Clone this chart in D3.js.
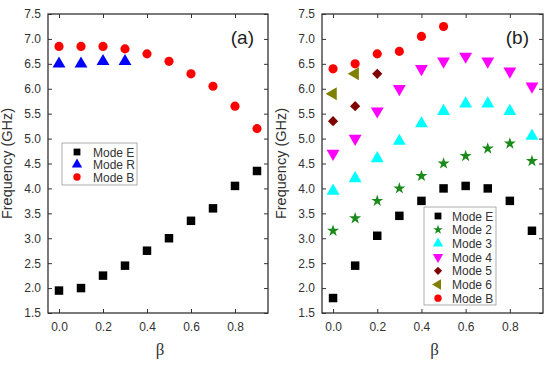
<!DOCTYPE html>
<html>
<head>
<meta charset="utf-8">
<script src="https://cdn.jsdelivr.net/npm/d3@7"></script>
<style>
body { margin: 0; background: #fff; }
svg text { font-family: "Liberation Sans", Arial, sans-serif; }
</style>
</head>
<body>
<svg id="chart" width="550" height="366"></svg>
<script>
// beta values shared by all modes
var beta = [0.0, 0.1, 0.2, 0.3, 0.4, 0.5, 0.6, 0.7, 0.8, 0.9];
var xTicks = [0.0, 0.2, 0.4, 0.6, 0.8];
var yTicks = [1.5, 2.0, 2.5, 3.0, 3.5, 4.0, 4.5, 5.0, 5.5, 6.0, 6.5, 7.0, 7.5];

// panel (a)
var aModeE = [1.95, 2.0, 2.25, 2.45, 2.75, 3.0, 3.35, 3.6, 4.05, 4.35];
var aModeR = [6.5, 6.5, 6.55, 6.55];
var aModeB = [6.85, 6.85, 6.85, 6.8, 6.7, 6.55, 6.3, 6.05, 5.65, 5.2];

// panel (b)
var bModeE = [1.8, 2.45, 3.05, 3.45, 3.75, 4.0, 4.05, 4.0, 3.75, 3.15];
var bMode2 = [3.15, 3.4, 3.75, 4.0, 4.25, 4.5, 4.65, 4.8, 4.9, 4.55];
var bMode3 = [3.95, 4.2, 4.6, 4.95, 5.3, 5.55, 5.7, 5.7, 5.55, 5.05];
var bMode4 = [4.7, 5.0, 5.55, 6.0, 6.4, 6.55, 6.65, 6.55, 6.35, 6.05];
var bMode5 = [5.35, 5.65, 6.3];
var bMode6 = [5.9, 6.3];
var bModeB = [6.4, 6.5, 6.7, 6.75, 7.05, 7.25];

var svg = d3.select("#chart");

// marker shapes: [symbol type, size, rotation]
var shapes = {
  square: [d3.symbolSquare, 72, 0],
  circle: [d3.symbolCircle, 66, 0],
  triUp: [d3.symbolTriangle, 72, 0],
  triDown: [d3.symbolTriangle, 72, 180],
  triLeft: [d3.symbolTriangle, 72, -90],
  star: [d3.symbolStar, 45, 0],
  diamond: [d3.symbolSquare, 52, 45]
};

var panels = [
  {
    left: 48, right: 268, label: "(a)",
    legend: {x: 62, y: 143, w: 75, h: 42, row: 12.5, sx: 15, tx: 31},
    series: [
      {name: "Mode E", vals: aModeE, shape: "square", color: "#000"},
      {name: "Mode R", vals: aModeR, shape: "triUp", color: "#0000ff"},
      {name: "Mode B", vals: aModeB, shape: "circle", color: "#ff0000"}
    ]
  },
  {
    left: 322, right: 543, label: "(b)",
    legend: {x: 424, y: 207, w: 72, h: 98, row: 13.7, sx: 14, tx: 28},
    series: [
      {name: "Mode E", vals: bModeE, shape: "square", color: "#000"},
      {name: "Mode 2", vals: bMode2, shape: "star", color: "#1a8a1a"},
      {name: "Mode 3", vals: bMode3, shape: "triUp", color: "#00ffff"},
      {name: "Mode 4", vals: bMode4, shape: "triDown", color: "#ff00ff"},
      {name: "Mode 5", vals: bMode5, shape: "diamond", color: "#800000"},
      {name: "Mode 6", vals: bMode6, shape: "triLeft", color: "#808000"},
      {name: "Mode B", vals: bModeB, shape: "circle", color: "#ff0000"}
    ]
  }
];

var yTop = 14, yBottom = 313;

function marker(g, shape, color, cx, cy, k){
  var s = shapes[shape];
  return g.append("path")
    .attr("d", d3.symbol().type(s[0]).size(s[1])())
    .attr("fill", color)
    .attr("transform", "translate(" + cx + "," + cy + ") rotate(" + s[2] + ") scale(" + (k || 1) + ")");
}

function styleAxis(a){
  a.select(".domain").remove();
  a.selectAll(".tick line").attr("stroke", "#333").attr("stroke-width", 1);
  a.selectAll(".tick text").attr("font-size", 12).attr("fill", "#333")
    .style("font-family", "'Liberation Sans', Arial, sans-serif");
}

panels.forEach(function(p){
  var x = d3.scaleLinear().domain([-0.05, 0.95]).range([p.left, p.right]),
    y = d3.scaleLinear().domain([1.5, 7.5]).range([yBottom, yTop]);

  var g = svg.append("g");

  // axes: outer labelled ones plus mirrored top/right ticks
  g.append("g")
    .attr("transform", "translate(0," + yBottom + ")")
    .call(d3.axisBottom(x).tickValues(xTicks).tickFormat(d3.format(".1f")).tickSizeInner(-4).tickSizeOuter(0).tickPadding(9))
    .call(styleAxis);
  g.append("g")
    .attr("transform", "translate(0," + yTop + ")")
    .call(d3.axisTop(x).tickValues(xTicks).tickFormat("").tickSizeInner(-4).tickSizeOuter(0))
    .call(styleAxis);
  g.append("g")
    .attr("transform", "translate(" + p.left + ",0)")
    .call(d3.axisLeft(y).tickValues(yTicks).tickFormat(d3.format(".1f")).tickSizeInner(-4).tickSizeOuter(0).tickPadding(7))
    .call(styleAxis);
  g.append("g")
    .attr("transform", "translate(" + p.right + ",0)")
    .call(d3.axisRight(y).tickValues(yTicks).tickFormat("").tickSizeInner(-4).tickSizeOuter(0))
    .call(styleAxis);

  g.append("rect")
    .attr("x", p.left).attr("y", yTop)
    .attr("width", p.right - p.left).attr("height", yBottom - yTop)
    .attr("fill", "none").attr("stroke", "#333").attr("stroke-width", 1.3);

  // points
  p.series.forEach(function(s){
    s.vals.forEach(function(v, i){
      marker(g, s.shape, s.color, x(beta[i]), y(v));
    });
  });

  // legend
  var L = p.legend,
    lg = g.append("g").attr("transform", "translate(" + L.x + "," + L.y + ")");
  lg.append("rect")
    .attr("width", L.w).attr("height", L.h)
    .attr("fill", "#fff").attr("stroke", "#999").attr("stroke-width", 0.8);
  p.series.forEach(function(s, i){
    var cy = 9 + i * L.row;
    marker(lg, s.shape, s.color, L.sx, cy, 0.8);
    lg.append("text")
      .attr("x", L.tx).attr("y", cy + 4.5)
      .attr("font-size", 12).attr("fill", "#333")
      .text(s.name);
  });

  // panel tag
  g.append("text")
    .attr("x", p.right - 14).attr("y", 44)
    .attr("text-anchor", "end")
    .attr("font-size", 19).attr("fill", "#222")
    .text(p.label);

  // axis titles
  g.append("text")
    .attr("transform", "translate(" + (p.left - 36) + "," + ((yTop + yBottom) / 2) + ") rotate(-90)")
    .attr("text-anchor", "middle")
    .attr("font-size", 14.5).attr("fill", "#333")
    .text("Frequency (GHz)");
  g.append("text")
    .attr("x", (p.left + p.right) / 2 + 2).attr("y", 355)
    .attr("text-anchor", "middle")
    .attr("font-size", 17).attr("fill", "#333")
    .style("font-family", "'Liberation Serif', serif")
    .text("β");
});
</script>
</body>
</html>
